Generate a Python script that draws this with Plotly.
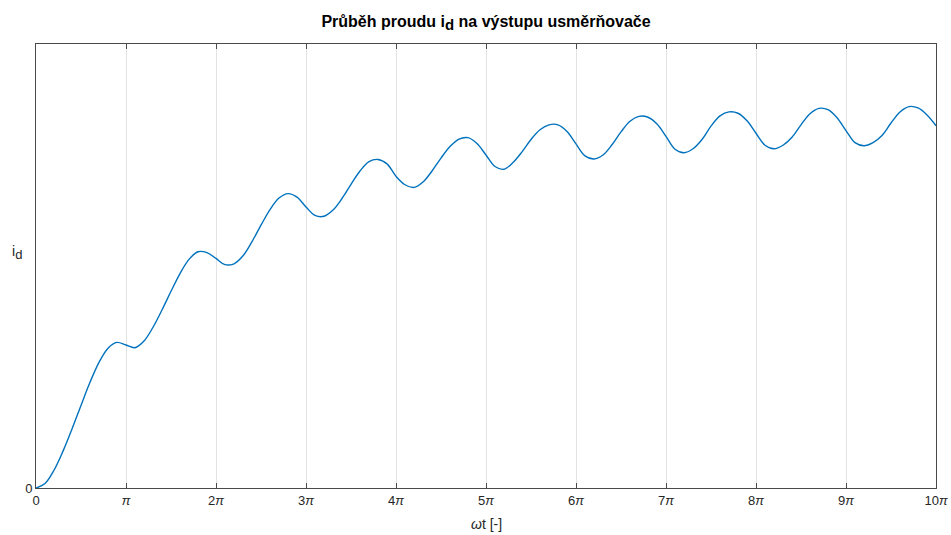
import plotly.graph_objects as go

# Rectifier output current i_d read along ωt (x in multiples of π, y normalised)
omega_t_pi = [0.0, 0.1, 0.2, 0.3, 0.4, 0.5, 0.6, 0.7, 0.8, 0.9,
              1.0, 1.1, 1.2, 1.3, 1.4, 1.5, 1.6, 1.7, 1.8, 1.9,
              2.0, 2.1, 2.2, 2.3, 2.4, 2.5, 2.6, 2.7, 2.8, 2.9,
              3.0, 3.1, 3.2, 3.3, 3.4, 3.5, 3.6, 3.7, 3.8, 3.9,
              4.0, 4.1, 4.2, 4.3, 4.4, 4.5, 4.6, 4.7, 4.8, 4.9,
              5.0, 5.1, 5.2, 5.3, 5.4, 5.5, 5.6, 5.7, 5.8, 5.9,
              6.0, 6.1, 6.2, 6.3, 6.4, 6.5, 6.6, 6.7, 6.8, 6.9,
              7.0, 7.1, 7.2, 7.3, 7.4, 7.5, 7.6, 7.7, 7.8, 7.9,
              8.0, 8.1, 8.2, 8.3, 8.4, 8.5, 8.6, 8.7, 8.8, 8.9,
              9.0, 9.1, 9.2, 9.3, 9.4, 9.5, 9.6, 9.7, 9.8, 9.9,
              10.0]
i_d = [0.000, 0.010, 0.040, 0.083, 0.133, 0.186, 0.238, 0.283, 0.315, 0.328,
       0.322, 0.316, 0.331, 0.362, 0.401, 0.443, 0.483, 0.515, 0.532, 0.530,
       0.517, 0.503, 0.505, 0.523, 0.555, 0.592, 0.627, 0.653, 0.663, 0.655,
       0.633, 0.614, 0.612, 0.626, 0.652, 0.684, 0.714, 0.735, 0.740, 0.730,
       0.702, 0.683, 0.677, 0.689, 0.714, 0.743, 0.769, 0.786, 0.789, 0.776,
       0.750, 0.724, 0.718, 0.733, 0.757, 0.785, 0.807, 0.818, 0.818, 0.803,
       0.775, 0.748, 0.741, 0.750, 0.773, 0.802, 0.826, 0.837, 0.835, 0.820,
       0.792, 0.763, 0.755, 0.764, 0.785, 0.815, 0.838, 0.847, 0.844, 0.827,
       0.799, 0.772, 0.764, 0.772, 0.790, 0.818, 0.843, 0.855, 0.852, 0.834,
       0.805, 0.778, 0.771, 0.778, 0.794, 0.822, 0.847, 0.859, 0.856, 0.840,
       0.816]

x_tick_vals = list(range(0, 11))
x_tick_text = ["0", "<i>π</i>", "2<i>π</i>", "3<i>π</i>", "4<i>π</i>", "5<i>π</i>",
               "6<i>π</i>", "7<i>π</i>", "8<i>π</i>", "9<i>π</i>", "10<i>π</i>"]
y_tick_vals = [0]
y_tick_text = ["0"]

FONT = "Liberation Sans, Arial, Helvetica, sans-serif"
AXIS_COLOR = "#4a4a4a"

fig = go.Figure()
fig.add_trace(go.Scatter(
    x=omega_t_pi, y=i_d, mode="lines",
    line=dict(color="#0072BD", width=1.4, shape="spline", smoothing=1.0),
    hoverinfo="skip", showlegend=False,
))

fig.update_layout(
    width=951, height=535,
    margin=dict(l=36, r=15, t=44, b=47, autoexpand=False),
    paper_bgcolor="white", plot_bgcolor="white",
    font=dict(family=FONT, size=13, color="#262626"),
    title=dict(
        text="<b>Průběh proudu i<sub><span style='font-size:15px'>d</span></sub>"
             " na výstupu usměrňovače</b>",
        x=0.5, xref="paper", xanchor="center",
        y=1 - 21 / 535, yref="container", yanchor="middle",
        font=dict(family=FONT, size=16, color="black"),
    ),
    xaxis=dict(
        range=[0, 10], tickvals=x_tick_vals, ticktext=x_tick_text,
        showgrid=True, gridcolor="#e3e3e3", gridwidth=1,
        showline=True, linecolor=AXIS_COLOR, linewidth=1, mirror="ticks",
        ticks="inside", ticklen=5, tickcolor=AXIS_COLOR,
        zeroline=False, fixedrange=True, automargin=False,
        tickfont=dict(family=FONT, size=13, color="#262626"),
    ),
    yaxis=dict(
        range=[0, 1], tickvals=y_tick_vals, ticktext=y_tick_text,
        showgrid=False,
        showline=True, linecolor=AXIS_COLOR, linewidth=1, mirror="ticks",
        ticks="inside", ticklen=5, tickcolor=AXIS_COLOR,
        zeroline=False, fixedrange=True, automargin=False,
        tickfont=dict(family=FONT, size=13, color="#262626"),
    ),
    annotations=[
        dict(text="<i>ω</i>t [-]", xref="paper", yref="paper",
             x=0.5, y=-(523 - 487.5) / 444, xanchor="center", yanchor="middle",
             showarrow=False, font=dict(family=FONT, size=14, color="#262626")),
        dict(text="i<sub><span style='font-size:13px'>d</span></sub>",
             xref="paper", yref="paper",
             x=-(36 - 17) / 900, y=(487.5 - 252) / 444, xanchor="center", yanchor="middle",
             showarrow=False, font=dict(family=FONT, size=14, color="#262626")),
    ],
)

fig.write_html("out.html")
